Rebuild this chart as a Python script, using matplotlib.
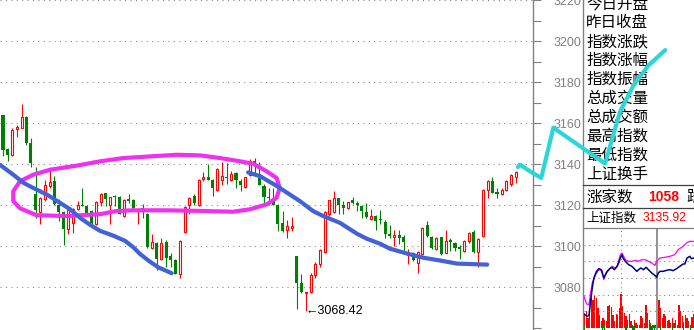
import numpy as np
import matplotlib
matplotlib.use("Agg")
import matplotlib.pyplot as plt
from matplotlib.lines import Line2D

plt.rcParams['font.family'] = ['Liberation Sans', 'DejaVu Sans']

# ---------------- data ----------------
opens = [3164.2, 3147.3, 3144.4, 3157.4, 3157.9, 3163.2, 3150.6, 3125.5, 3116.8, 3123.1,
         3129.4, 3131.8, 3120.2, 3116.8, 3108.6, 3111.5, 3118.2, 3120.2, 3119.7, 3117.3,
         3111.0, 3121.6, 3126.0, 3120.2, 3124.5, 3124.0, 3114.8, 3123.1, 3122.6, 3117.7,
         3118.7, 3115.8, 3099.4, 3101.8, 3094.0, 3102.3, 3095.5, 3093.5, 3086.3, 3107.1,
         3120.2, 3124.5, 3120.2, 3132.7, 3133.7, 3132.3, 3127.4, 3132.3, 3133.7, 3132.3,
         3135.6, 3131.8, 3128.9, 3134.7, 3141.9, 3135.2, 3129.4, 3124.0, 3123.6, 3120.2,
         3111.5, 3108.1, 3109.0, 3095.5, 3081.9, 3077.1, 3077.6, 3085.8, 3091.6, 3097.4,
         3115.8, 3116.8, 3123.6, 3120.2, 3118.7, 3122.6, 3121.2, 3119.7, 3116.8, 3113.4,
         3114.8, 3113.4, 3111.9, 3106.1, 3104.7, 3105.6, 3104.7, 3096.0, 3096.9, 3092.1,
         3096.5, 3110.5, 3104.7, 3098.9, 3104.7, 3096.9, 3103.2, 3101.8, 3099.8, 3097.9,
         3102.7, 3107.1, 3097.4, 3105.2, 3127.4, 3131.8, 3126.5, 3125.5, 3127.4, 3130.3,
         3133.7]
highs = [3164.2, 3148.2, 3157.9, 3159.4, 3169.5, 3163.7, 3153.1, 3138.6, 3124.0, 3132.3,
         3137.1, 3134.2, 3123.1, 3117.3, 3118.2, 3118.7, 3122.1, 3128.4, 3120.2, 3117.7,
         3122.1, 3126.0, 3126.0, 3124.0, 3125.0, 3124.5, 3123.1, 3125.5, 3123.1, 3118.2,
         3120.7, 3116.3, 3106.1, 3102.3, 3104.2, 3103.2, 3096.9, 3094.0, 3103.2, 3119.7,
         3124.0, 3125.5, 3132.7, 3136.1, 3140.0, 3132.7, 3138.1, 3141.0, 3140.5, 3136.6,
         3136.1, 3132.7, 3133.7, 3142.4, 3142.9, 3141.0, 3130.3, 3128.4, 3128.4, 3120.7,
         3117.3, 3112.9, 3114.3, 3095.5, 3086.3, 3077.6, 3086.8, 3092.6, 3098.9, 3117.3,
         3122.6, 3126.9, 3123.6, 3122.1, 3121.6, 3124.0, 3122.1, 3120.2, 3121.2, 3118.2,
         3115.3, 3117.7, 3112.9, 3110.5, 3108.1, 3108.1, 3105.6, 3098.9, 3097.4, 3097.9,
         3109.5, 3112.4, 3105.2, 3104.7, 3104.7, 3108.1, 3104.2, 3102.3, 3100.8, 3103.2,
         3107.1, 3108.1, 3104.2, 3127.9, 3132.3, 3133.7, 3128.4, 3128.4, 3132.3, 3135.2,
         3136.6]
lows = [3143.9, 3141.5, 3143.9, 3153.6, 3157.9, 3149.7, 3138.6, 3113.9, 3111.0, 3122.1,
        3128.4, 3120.2, 3112.4, 3100.8, 3106.1, 3106.6, 3117.7, 3119.7, 3115.8, 3111.0,
        3110.5, 3119.7, 3119.7, 3111.0, 3119.7, 3115.8, 3114.3, 3121.2, 3117.7, 3111.0,
        3113.9, 3099.4, 3098.9, 3088.7, 3093.5, 3089.7, 3089.7, 3086.3, 3084.8, 3106.6,
        3115.8, 3120.2, 3119.7, 3131.8, 3132.3, 3124.5, 3126.9, 3129.8, 3130.3, 3131.8,
        3128.4, 3126.9, 3128.4, 3134.2, 3134.7, 3129.8, 3119.7, 3120.2, 3120.2, 3107.6,
        3107.1, 3104.2, 3107.6, 3069.4, 3077.1, 3068.42, 3077.1, 3084.8, 3089.7, 3096.9,
        3114.8, 3116.3, 3115.8, 3115.8, 3118.2, 3120.7, 3117.3, 3113.9, 3113.9, 3112.9,
        3108.1, 3111.0, 3104.2, 3104.2, 3100.3, 3101.3, 3096.9, 3091.6, 3093.1, 3087.2,
        3096.0, 3104.7, 3098.9, 3098.4, 3096.0, 3096.9, 3097.9, 3097.9, 3094.0, 3097.4,
        3101.8, 3096.9, 3089.7, 3104.7, 3123.6, 3126.0, 3123.6, 3125.0, 3126.9, 3129.4,
        3130.8]
closes = [3146.8, 3144.4, 3156.9, 3158.4, 3163.2, 3150.6, 3140.5, 3117.7, 3123.6, 3129.8,
          3131.3, 3120.7, 3116.8, 3108.6, 3117.7, 3118.2, 3120.2, 3119.7, 3116.3, 3111.5,
          3121.6, 3125.5, 3123.1, 3124.0, 3124.0, 3115.8, 3122.6, 3122.1, 3118.7, 3118.2,
          3118.2, 3099.8, 3102.3, 3094.0, 3101.8, 3094.5, 3093.5, 3086.3, 3102.7, 3119.2,
          3123.6, 3121.2, 3132.3, 3133.7, 3132.3, 3128.4, 3137.6, 3134.2, 3133.2, 3135.2,
          3132.3, 3129.8, 3133.7, 3141.5, 3140.0, 3129.8, 3124.0, 3123.6, 3120.2, 3111.0,
          3107.6, 3110.0, 3110.0, 3081.9, 3077.6, 3077.6, 3085.8, 3091.6, 3098.4, 3116.8,
          3122.6, 3123.6, 3120.2, 3118.7, 3121.6, 3121.2, 3120.2, 3117.3, 3114.4, 3114.8,
          3112.4, 3112.9, 3106.1, 3105.2, 3105.6, 3104.2, 3102.3, 3096.9, 3093.5, 3097.4,
          3109.0, 3105.2, 3099.4, 3104.2, 3096.5, 3102.7, 3102.3, 3099.4, 3098.9, 3102.7,
          3106.6, 3097.4, 3103.7, 3127.4, 3131.8, 3126.0, 3125.5, 3127.4, 3131.8, 3134.7,
          3136.1]

low_index = 65
low_value = 3068.42
low_text = "←3068.42"

price_ticks = [3080, 3100, 3120, 3140, 3160, 3180, 3200, 3220]
minor_ticks = [3060, 3070, 3090, 3110, 3130, 3150, 3170, 3190, 3210, 3230]

# hand-drawn annotations (bar index, price)
blue_a_idx = [-0.64, 2.2, 4.4, 6.5, 9.4, 12.2, 14.4, 16.5, 18.7, 20.8, 23.7, 26.2, 28.0, 29.4, 31.2, 33.3, 36.2]
blue_a_price = [3139.8, 3135.0, 3131.0, 3128.5, 3125.3, 3121.3, 3118.1, 3114.0, 3110.5, 3107.6, 3105.2,
                3102.7, 3099.5, 3096.3, 3093.1, 3089.8, 3086.9]
blue_b_idx = [52.6, 55.2, 58.8, 63.7, 66.5, 68.7, 72.3, 76.0, 78.1, 80.9, 83.0, 86.7, 90.1, 93.8, 97.4, 103.9]
blue_b_price = [3136.1, 3134.2, 3129.4, 3122.1, 3117.3, 3114.8, 3111.5, 3106.1, 3103.7, 3101.3, 3098.9,
                3096.5, 3094.5, 3093.1, 3091.6, 3091.1]
ring_idx = [3.65, 6.5, 10.1, 15.8, 20.8, 25.8, 31.5, 37.3, 42.3, 46.6, 50.9, 53.7, 56.6, 58.7, 59.4, 58.7,
            56.6, 53.0, 49.4, 42.3, 35.1, 28.0, 24.4, 20.8, 13.7, 7.2, 3.65, 2.2, 2.2, 3.65]
ring_price = [3131.8, 3135.0, 3137.4, 3139.4, 3141.5, 3143.1, 3143.9, 3144.7, 3144.4, 3143.1, 3141.5,
              3140.3, 3136.6, 3133.4, 3128.5, 3123.7, 3120.5, 3118.1, 3116.9, 3117.3, 3117.6, 3117.6,
              3117.3, 3115.7, 3114.8, 3115.2, 3118.6, 3122.1, 3126.9, 3131.8]
cyan_idx = [110.5, 110.9, 113.1, 115.5, 118.1, 129.2, 132.4, 135.3, 138.5, 142.1]
cyan_price = [3138.7, 3139.9, 3136.6, 3133.4, 3157.9, 3140.4, 3165.7, 3178.6, 3188.3, 3195.8]

panel_labels = ["今日开盘", "昨日收盘", "指数涨跌", "指数涨幅", "指数振幅",
                "总成交量", "总成交额", "最高指数", "最低指数", "上证换手"]
rise_label = "涨家数"
rise_count = "1058"
fall_label = "跌家数"
index_label = "上证指数"
index_value = "3135.92"

# mini intraday chart (minutes, level units)
mag_min = [0, 4.3, 8.1, 10.8, 13.5, 18.9, 24.3, 29.7, 32.4, 35.1, 40.5, 45.9, 51.4, 54.1, 59.5, 62.2,
           67.6, 73.0, 78.4, 83.8, 89.2, 94.6, 100.0, 105.4, 110.8, 116.2, 118.9, 124.3, 132.4, 140.5,
           148.6, 154.1, 162.2, 167.6, 173.0, 180.0]
mag_val = [1.90, 1.44, 1.40, 2.10, 2.70, 3.20, 3.50, 3.44, 2.90, 3.20, 3.50, 3.70, 3.60, 3.70, 4.40, 4.50,
           4.10, 4.00, 4.00, 4.06, 4.00, 4.10, 4.10, 4.00, 3.90, 3.76, 4.00, 4.20, 4.24, 4.30, 4.40, 4.70,
           4.90, 5.10, 5.20, 5.20]
navy_min = [0, 5.4, 8.1, 10.8, 13.5, 16.2, 20.5, 24.3, 28.1, 29.7, 32.4, 35.1, 37.8, 42.2, 45.9, 49.7,
            54.1, 56.8, 59.5, 62.2, 63.8, 67.6, 73.0, 78.4, 83.8, 86.5, 89.2, 93.0, 97.3, 101.6, 105.4,
            110.8, 114.6, 118.9, 121.6, 124.3, 129.7, 135.1, 140.5, 145.9, 151.4, 156.8, 162.2, 164.9,
            168.6, 173.0, 175.7, 180.0]
navy_val = [0.84, 0.70, 0.76, 1.60, 2.40, 3.00, 3.40, 3.56, 3.50, 3.30, 3.00, 3.20, 3.40, 3.56, 3.64, 3.50,
            3.70, 3.90, 4.20, 4.40, 4.20, 4.00, 3.80, 3.70, 3.50, 3.40, 3.50, 3.60, 3.50, 3.64, 3.50,
            3.30, 3.20, 3.04, 3.30, 3.40, 3.40, 3.46, 3.50, 3.44, 3.56, 3.70, 3.84, 3.84, 4.20, 4.30,
            4.16, 4.20]
volume = [40, 50, 30, 60, 90, 85, 100, 90, 60, 40, 20, 30, 25, 20, 65, 70, 62, 40, 20, 42, 38, 60, 102,
          65, 45, 35, 25, 42, 20, 10, 25, 15, 10, 10, 35, 30, 15, 70, 45, 25, 15, 10, 8, 10, 15, 85, 60,
          30, 42, 35, 20, 25, 15, 30, 15, 25, 10, 70, 50, 35, 18, 40, 30, 20, 10, 32, 42]
green_min = [1.1, 30.8, 33.5, 67.6, 69.2, 80.0, 82.2, 107.0, 109.7, 112.4, 115.1, 125.4, 144.3, 163.2, 174.0]
mini_levels = [1, 2, 3, 4, 5]

# ---------------- figure ----------------
W, H, DPI = 694, 330, 100
fig = plt.figure(figsize=(W / DPI, H / DPI), dpi=DPI)
fig.patch.set_facecolor('white')


def fy(y):
    return 1 - y / H


RED = '#ff0000'
GREEN = '#008000'
GRAY = '#808080'

# main candlestick axes (extends a bit above the figure)
ax = fig.add_axes([0, 0, 533 / W, 350 / H], zorder=5)
ax.set_facecolor('none')
ax.set_xlim(-0.644, 113.73)
ax.set_ylim(3059.19, 3228.56)

o = np.array(opens); h = np.array(highs); l = np.array(lows); c = np.array(closes)
idx = np.arange(len(o))
up = c >= o
ax.vlines(idx[up], l[up], h[up], colors=RED, linewidth=0.8, zorder=2)
ax.vlines(idx[~up], l[~up], h[~up], colors=GREEN, linewidth=0.8, zorder=2)
ax.bar(idx[up], np.maximum(c[up] - o[up], 0.5), bottom=o[up], width=0.43,
       facecolor='white', edgecolor=RED, linewidth=0.8, zorder=3)
ax.bar(idx[~up], np.maximum(o[~up] - c[~up], 0.6), bottom=c[~up], width=0.66,
       color=GREEN, linewidth=0, zorder=3)

ax.text(low_index, low_value, low_text, fontsize=9, color='black', ha='left', va='center',
        family=['Liberation Sans', 'DejaVu Sans'], zorder=6)

# annotations
ax.plot(ring_idx, ring_price, color='#f030f0', linewidth=3.0, solid_capstyle='round',
        solid_joinstyle='round', zorder=7)
ax.plot(blue_a_idx, blue_a_price, color='#4262d6', linewidth=3.0, solid_capstyle='round', zorder=8)
ax.plot(blue_b_idx, blue_b_price, color='#4262d6', linewidth=3.0, solid_capstyle='round', zorder=8)
ax.plot(cyan_idx, cyan_price, color='#2ad6d8', linewidth=3.0, solid_capstyle='round',
        solid_joinstyle='round', clip_on=False, zorder=9)

# axis styling
for s in ['left', 'top', 'bottom']:
    ax.spines[s].set_visible(False)
ax.spines['right'].set_color(GRAY)
ax.spines['right'].set_linewidth(1.0)
ax.yaxis.tick_right()
ax.set_yticks(price_ticks)
ax.set_yticks(minor_ticks, minor=True)
ax.set_yticklabels([str(t) for t in price_ticks])
ax.tick_params(axis='y', which='both', direction='out', length=5.8, width=0.8, color=GRAY,
               pad=9, labelsize=9, labelcolor=GRAY)
ax.tick_params(axis='y', which='minor', labelright=False)
ax.set_xticks([])
ax.set_axisbelow(True)
ax.grid(axis='y', which='major', color=GRAY, linestyle=(0, (1, 4.2)), linewidth=0.75)

# right information panel
fig.add_artist(Line2D([583 / W, 583 / W], [0, 1], color=GRAY, linewidth=1.0))
for yy, col in [(185, '#404040'), (208, '#404040'), (228, GRAY)]:
    fig.add_artist(Line2D([583 / W, 1], [fy(yy), fy(yy)], color=col, linewidth=0.9))

cjk = ['Noto Sans CJK SC', 'DejaVu Sans']
for i, lab in enumerate(panel_labels):
    fig.text(586 / W, fy(3.8 + i * 18.9), lab, fontsize=11.2, family=cjk, color='black',
             ha='left', va='center')
fig.text(586 / W, fy(197), rise_label, fontsize=11.2, family=cjk, color='black', ha='left', va='center')
fig.text(648 / W, fy(197), rise_count, fontsize=10, family=['Liberation Sans'], weight='bold',
         color=RED, ha='left', va='center')
fig.text(686 / W, fy(197), fall_label, fontsize=11.2, family=cjk, color='black', ha='left', va='center')
fig.text(586 / W, fy(218), index_label, fontsize=9, family=cjk, color='black', ha='left', va='center')
fig.text(643 / W, fy(218), index_value, fontsize=8.8, family=['Liberation Sans'], color=RED,
         ha='left', va='center')

# mini intraday chart
rect = [584 / W, 0, (694 - 584) / W, (330 - 228) / H]
axv = fig.add_axes(rect, zorder=1)
axv.set_xlim(0, 180)
axv.set_ylim(-6, 300)
vol_min = np.arange(len(volume)) * 2.7 + 1.35
axv.bar(vol_min, volume, width=2.2, color=RED, linewidth=0)
axv.bar(green_min, [11] * len(green_min), bottom=-6, width=2.0, color=GREEN, linewidth=0)
axv.axis('off')

axm = fig.add_axes(rect, zorder=2)
axm.set_facecolor('none')
axm.set_xlim(0, 180)
axm.set_ylim(-0.12, 6)
axm.hlines(mini_levels, 0, 180, colors=GRAY, linestyles=(0, (1, 3.5)), linewidth=0.75)
axm.axvline(60, color=GRAY, linestyle=(0, (1, 3.5)), linewidth=0.75)
axm.axvline(120, color=GRAY, linewidth=1.2)
axm.plot(mag_min, mag_val, color='#ff00ff', linewidth=0.9)
axm.plot(navy_min, navy_val, color='#000080', linewidth=1.1)
axm.axis('off')

fig.savefig('out.png', dpi=DPI, facecolor='white')
